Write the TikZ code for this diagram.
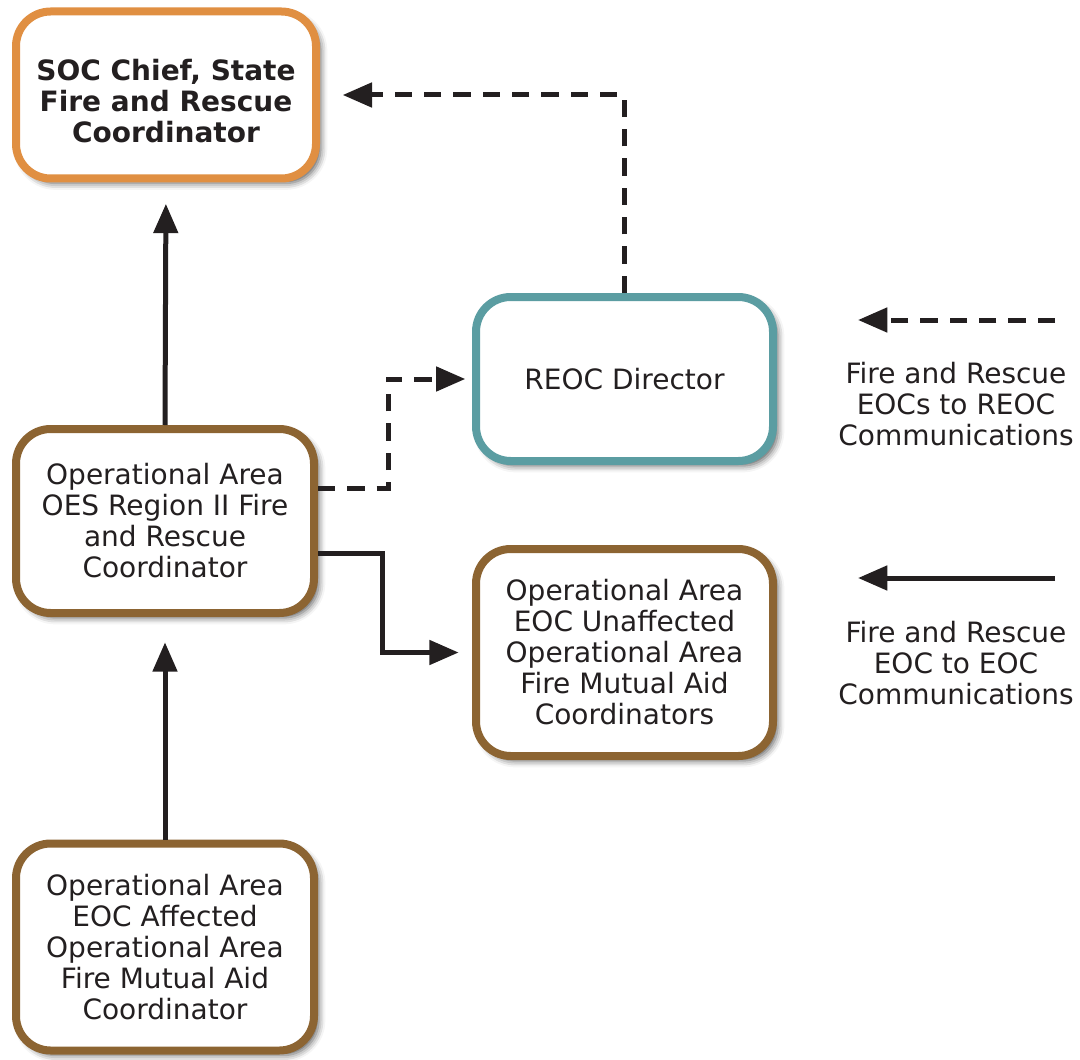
\documentclass[tikz,border=0pt]{standalone}
\usepackage{fontspec}
\setmainfont{DejaVu Sans}
\usetikzlibrary{arrows.meta,shadows.blur,calc}

\definecolor{inkdark}{HTML}{231F20}
\definecolor{socorange}{HTML}{E08F42}
\definecolor{oabrown}{HTML}{8C6432}
\definecolor{reocteal}{HTML}{5B9DA2}

\tikzset{
  box/.style={draw, line width=6pt, rounded corners=26pt, fill=white,
    align=center, text=inkdark, inner sep=0pt,
    font=\fontsize{21}{23.25}\selectfont,
    blur shadow={shadow xshift=3.5pt, shadow yshift=-3.5pt,
      shadow blur radius=5pt, shadow opacity=65}},
  legendtext/.style={align=center, text=inkdark,
    font=\fontsize{21}{23.25}\selectfont},
  link/.style={draw=inkdark, line width=3.75pt,
    -{Triangle[length=22pt,width=18pt]}},
  dashlink/.style={link, dash pattern=on 13pt off 9pt},
}

\begin{document}
\begin{tikzpicture}[x=0.75pt, y=-0.75pt]
  \path[use as bounding box] (0,0) rectangle (1080,1059);

  % boxes
  \node[box, draw=socorange, minimum width=225pt, minimum height=125.25pt,
        font=\fontsize{21}{23.25}\selectfont\bfseries]
    (soc) at (166,95) {\\[2pt]SOC Chief, State\\Fire and Rescue\\Coordinator};
  \node[box, draw=oabrown, minimum width=223.5pt, minimum height=138pt]
    (oes) at (165,521) {Operational Area\\OES Region II Fire\\and Rescue\\Coordinator};
  \node[box, draw=oabrown, minimum width=223.5pt, minimum height=155.25pt]
    (aff) at (165,947) {Operational Area\\EOC Affected\\Operational Area\\Fire Mutual Aid\\Coordinator};
  \node[box, draw=reocteal, minimum width=222.75pt, minimum height=123pt]
    (reoc) at (624.5,379) {REOC Director};
  \node[box, draw=oabrown, minimum width=222.75pt, minimum height=155.25pt]
    (unaff) at (624.5,652.5) {Operational Area\\EOC Unaffected\\Operational Area\\Fire Mutual Aid\\Coordinators};

  % connectors
  \draw[link, shorten >=16pt] (oes.north) -- (soc.south);
  \draw[link, shorten >=19pt] (aff.north) -- (oes.south);
  \draw[dashlink, shorten >=17pt] (reoc.north) |- (soc.east);
  \draw[dashlink, shorten >=5pt] ($(oes.east)+(0,-33)$) -- ++(70,0) |- (reoc.west);
  \draw[link, shorten >=10pt] ($(oes.east)+(0,32)$) -- ++(64,0) |- (unaff.west);

  % legend
  \coordinate (lgdashA) at (1055,320);
  \coordinate (lgdashB) at (858,320);
  \coordinate (lgsolidA) at (1055,578);
  \coordinate (lgsolidB) at (858,578);
  \draw[dashlink] (lgdashA) -- (lgdashB);
  \draw[link] (lgsolidA) -- (lgsolidB);
  \node[legendtext] (lgdashtext) at (956,404) {Fire and Rescue\\EOCs to REOC\\Communications};
  \node[legendtext] (lgsolidtext) at (956,663) {Fire and Rescue\\EOC to EOC\\Communications};
\end{tikzpicture}
\end{document}
